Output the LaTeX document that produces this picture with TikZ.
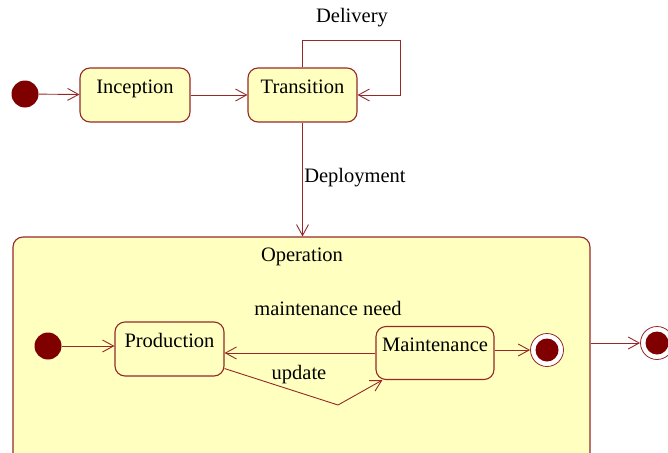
\documentclass[tikz,border=0pt]{standalone}
\usepackage{fontspec}
\setmainfont{Liberation Serif}
\usetikzlibrary{arrows.meta,calc}
\definecolor{edge}{RGB}{150,40,40}
\definecolor{dotred}{RGB}{128,0,0}
\definecolor{stfill}{RGB}{255,255,192}
\tikzset{
  state/.style={draw=edge, line width=1.1pt, fill=stfill, rounded corners=10pt,
    font=\fontsize{20.5}{22}\selectfont, text height=14pt, text depth=18pt, inner sep=0pt},
  initdot/.style={circle, fill=dotred, inner sep=0pt, minimum size=#1},
  finaldot/.style={circle, draw=edge, line width=0.8pt, fill=white, inner sep=0pt, minimum size=33pt,
    path picture={\fill[dotred] (path picture bounding box.center) circle (11.5pt);}},
  tr/.style={draw=edge, line width=0.9pt, -{Straight Barb[length=11pt,width=12pt,line width=0.9pt]}},
  lbl/.style={font=\fontsize{20.5}{22}\selectfont, inner sep=0pt}
}
\begin{document}
\begin{tikzpicture}[x=1pt,y=-1pt]
\useasboundingbox (0,0) rectangle (668,452);
\begin{scope}
\clip (0,0) rectangle (668,452);
% top level states
\node[initdot=27pt] (start) at (25,94) {};
\node[state, minimum width=110pt, minimum height=54pt] (inception) at (135,95) {Inception};
\node[state, minimum width=109pt, minimum height=54pt] (transition) at (302.5,95) {Transition};
% composite state
\node[state, minimum width=577pt, minimum height=236pt] (operation) at (301.5,355) {};
\node[lbl] (oplabel) at (302,257) {Operation};
% inner states
\node[initdot=27pt] (istart) at (48,346) {};
\node[state, minimum width=109pt, minimum height=54pt] (production) at (169.5,349) {Production};
\node[state, minimum width=118pt, minimum height=53pt] (maintenance) at (435,353) {Maintenance};
\node[finaldot] (ifinal) at (547,350) {};
\node[finaldot] (final) at (657,343) {};
% waypoints
\coordinate (loopcorner) at (400,40);
\coordinate (updbend) at (338,405);
% transitions
\draw[tr] (start) -- (inception);
\draw[tr] (inception) -- (transition);
\draw[tr] (transition.north) |- (loopcorner) |- (transition.east);
\node[lbl] (delivery) at (352,18) {Delivery};
\draw[tr] (transition.south) -- (transition.south |- operation.north);
\node[lbl] (deployment) at (355,178) {Deployment};
\draw[tr] (istart) -- (istart -| production.west);
\draw[tr] (maintenance.west) -- (maintenance.west -| production.east);
\node[lbl] (mneed) at (328,308) {maintenance need};
\draw[tr] ([yshift=8pt]production.south east) -- (updbend) -- ([xshift=7pt]maintenance.south west);
\node[lbl] (update) at (299,375) {update};
\draw[tr] (maintenance.east |- ifinal) -- (ifinal);
\draw[tr] (operation.east |- final) -- (final);
\end{scope}
\end{tikzpicture}
\end{document}
